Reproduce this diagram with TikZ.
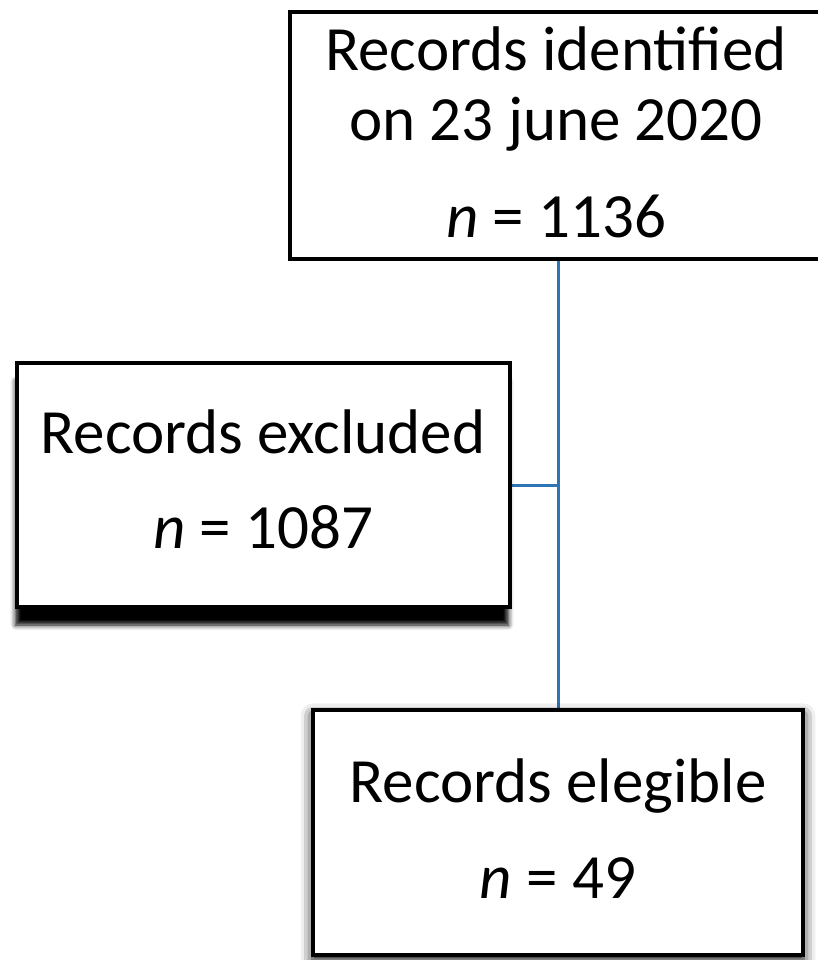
\documentclass[tikz,border=0pt]{standalone}
\usepackage{fontspec}
\setmainfont{Carlito}
\usetikzlibrary{shadows.blur,backgrounds}
\definecolor{connblue}{HTML}{2E75B6}
\begin{document}
\begin{tikzpicture}[x=1pt,y=-1pt,
  box/.style={draw=black,line width=4pt,fill=white,rectangle,inner sep=0pt,outer sep=0pt},
  txt/.style={anchor=base,inner sep=0pt,font=\fontsize{63}{70}\selectfont},
  conn/.style={draw=connblue,line width=3pt}]
\useasboundingbox (0,0) rectangle (817,960);
% boxes
\node[box, minimum width=536pt, minimum height=247pt] (top) at (558,135.5) {};
\node[box, minimum width=493pt, minimum height=244pt,
  blur shadow={shadow xshift=-1pt, shadow yshift=-18pt, shadow blur radius=5pt, shadow opacity=100}] (excl) at (263,485) {};
\node[box, minimum width=490.5pt, minimum height=244.5pt,
  blur shadow={shadow xshift=0pt, shadow yshift=-5pt, shadow blur radius=12pt, shadow opacity=100}] (elig) at (558,832.7) {};
% connectors
\begin{scope}[on background layer]
\draw[conn] (top.south) -- (elig.north);
\coordinate (j) at (558,485);
\draw[conn] (j) -- (excl.east);
\end{scope}
% texts
\node[txt] (t1) at (556,71) {Records identified};
\node[txt] (t2) at (556,141) {on 23 june 2020};
\node[txt] (t3) at (556,237) {\textit{n} = 1136};
\node[txt] (e1) at (263,453) {Records excluded};
\node[txt] (e2) at (263,548) {\textit{n} = 1087};
\node[txt] (g1) at (558,802) {Records elegible};
\node[txt] (g2) at (558,898) {\textit{n} = 49};
\end{tikzpicture}
\end{document}
